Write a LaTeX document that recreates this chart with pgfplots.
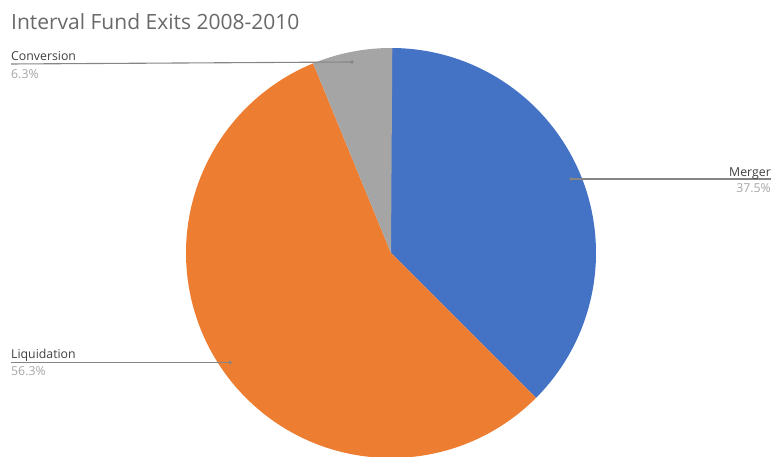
\documentclass[border=0pt]{standalone}
\usepackage{pgfplots}
\pgfplotsset{compat=1.18}
\usepackage{pgfplotstable}
\usepackage{fontspec}
\setmainfont{Open Sans}
\definecolor{cMerger}{HTML}{4472C4}
\definecolor{cLiq}{HTML}{ED7D31}
\definecolor{cConv}{HTML}{A5A5A5}
\definecolor{ctitle}{HTML}{696969}
\definecolor{cname}{HTML}{404040}
\definecolor{cval}{HTML}{A6A6A6}
\definecolor{cline}{HTML}{858585}

\pgfplotstableread{
label value
Merger 37.5
Liquidation 56.3
Conversion 6.3
}\pietable

\begin{document}
\begin{tikzpicture}
\useasboundingbox (0,0) rectangle (772pt,457pt);
\pgfplotstablegetelem{0}{value}\of\pietable \let\vA\pgfplotsretval
\pgfplotstablegetelem{1}{value}\of\pietable \let\vB\pgfplotsretval
\pgfplotstablegetelem{2}{value}\of\pietable \let\vC\pgfplotsretval
\pgfmathsetmacro\eA{90-3.6*\vA}
\pgfmathsetmacro\eB{\eA-3.6*\vB}
\pgfmathsetmacro\eC{\eB-3.6*\vC}
\begin{axis}[at={(0,0)},anchor=south west,scale only axis,
  width=772pt,height=457pt,xmin=0,xmax=772,ymin=0,ymax=457,
  hide axis,clip=false]
\fill[cMerger] (axis cs:391,204) -- ([shift={(90:205pt)}]axis cs:391,204) arc[start angle=90,end angle=\eA,radius=205pt] -- cycle;
\fill[cLiq] (axis cs:391,204) -- ([shift={(\eA:205pt)}]axis cs:391,204) arc[start angle=\eA,end angle=\eB,radius=205pt] -- cycle;
\fill[cConv] (axis cs:391,204) -- ([shift={(\eB:205pt)}]axis cs:391,204) arc[start angle=\eB,end angle=\eC,radius=205pt] -- cycle;
% title
\node[anchor=base west,inner sep=0pt,text=ctitle,font=\fontsize{21}{25}\selectfont] at (axis cs:11,427) {Interval Fund Exits 2008-2010};
% Conversion
\draw[cline,line width=1.1pt] (axis cs:11,393) -- (axis cs:352,395);
\fill[cline] (axis cs:352,395) circle[radius=1.8pt];
\node[anchor=base west,inner sep=0pt,text=cname,font=\fontsize{12.3}{14}\selectfont] at (axis cs:11,396.5) {Conversion};
\node[anchor=base west,inner sep=0pt,text=cval,font=\fontsize{12.3}{14}\selectfont] at (axis cs:11,378.5) {6.3\%};
% Merger
\draw[cline,line width=1.1pt] (axis cs:571,278) -- (axis cs:771,278);
\fill[cline] (axis cs:571,278) circle[radius=1.8pt];
\node[anchor=base east,inner sep=0pt,text=cname,font=\fontsize{12.3}{14}\selectfont] at (axis cs:771,280.5) {Merger};
\node[anchor=base east,inner sep=0pt,text=cval,font=\fontsize{12.3}{14}\selectfont] at (axis cs:771,264) {37.5\%};
% Liquidation
\draw[cline,line width=1.1pt] (axis cs:11,94.5) -- (axis cs:230,94.5);
\fill[cline] (axis cs:230,94.5) circle[radius=1.8pt];
\node[anchor=base west,inner sep=0pt,text=cname,font=\fontsize{12.3}{14}\selectfont] at (axis cs:11,98.5) {Liquidation};
\node[anchor=base west,inner sep=0pt,text=cval,font=\fontsize{12.3}{14}\selectfont] at (axis cs:11,81) {56.3\%};
\end{axis}
\end{tikzpicture}
\end{document}
